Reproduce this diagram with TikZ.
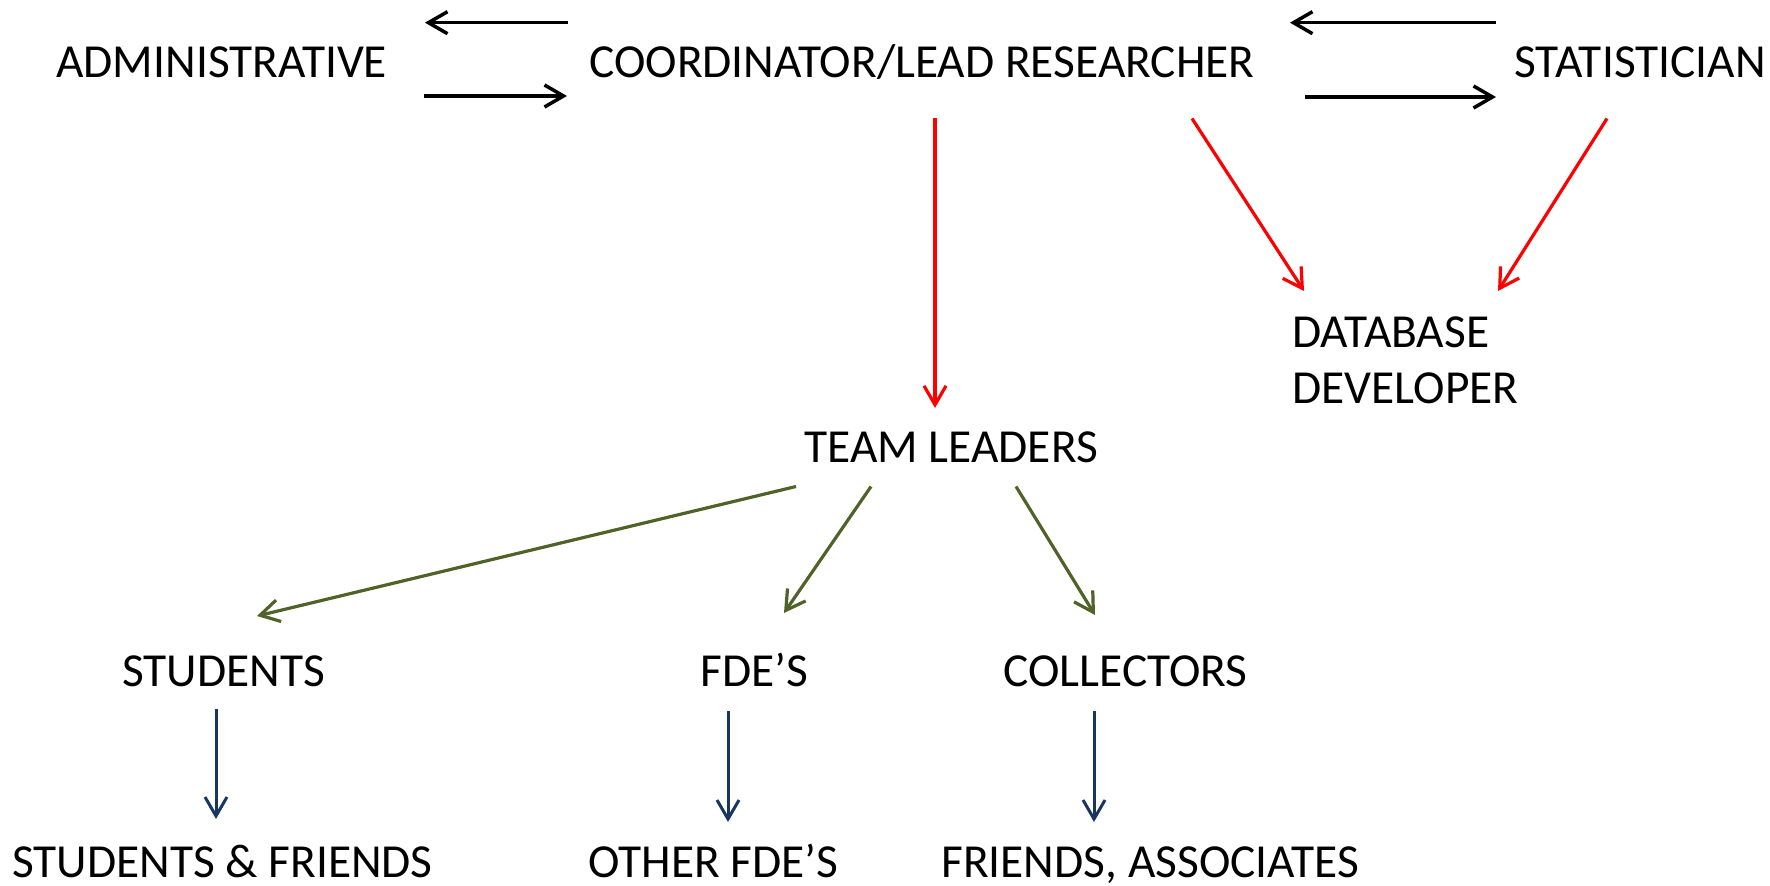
\documentclass[tikz,border=0pt]{standalone}
\usepackage{fontspec}
\setmainfont{Carlito}
\usetikzlibrary{arrows.meta}
\definecolor{olivegr}{HTML}{4F6228}
\definecolor{navyb}{HTML}{17375E}
\begin{document}
\begin{tikzpicture}[x=0.5pt,y=-0.5pt,
  lbl/.style={anchor=base west,inner sep=0pt,align=left,font=\fontsize{23.7}{28}\selectfont},
  tipb/.style={-{Straight Barb[length=9.5pt,width=11pt]}},
  blkarrow/.style={tipb,line width=1.75pt,black},
  redarrow/.style={tipb,line width=1.6pt,red},
  grnarrow/.style={tipb,line width=1.6pt,olivegr},
  bluarrow/.style={tipb,line width=1.5pt,navyb}]
\useasboundingbox (0,0) rectangle (1770,886);
% nodes
\node[lbl] (admin) at (56,78) {ADMINISTRATIVE};
\node[lbl] (coord) at (589,78) {COORDINATOR/LEAD RESEARCHER};
\node[lbl] (stat) at (1514,78) {STATISTICIAN};
\node[lbl] (db) at (1292,404) {DATABASE\\DEVELOPER};
\node[lbl] (team) at (804,462.5) {TEAM LEADERS};
\node[lbl] (stud) at (122,686) {STUDENTS};
\node[lbl] (fde) at (700,686) {FDE’S};
\node[lbl] (coll) at (1003,686) {COLLECTORS};
\node[lbl] (studf) at (12,877) {STUDENTS \& FRIENDS};
\node[lbl] (ofde) at (588,877) {OTHER FDE’S};
\node[lbl] (fass) at (941,877) {FRIENDS, ASSOCIATES};
% connector end points
\coordinate (a1s) at (568,22.7); \coordinate (a1e) at (425,22.7);
\coordinate (a2s) at (424,96);   \coordinate (a2e) at (567,96);
\coordinate (a3s) at (1496,22.7); \coordinate (a3e) at (1290,22.7);
\coordinate (a4s) at (1305,97);  \coordinate (a4e) at (1496,97);
\coordinate (r1s) at (935,118.5); \coordinate (r1e) at (935,408);
\coordinate (r2s) at (1192,118.5); \coordinate (r2e) at (1304,291);
\coordinate (r3s) at (1607,118.5); \coordinate (r3e) at (1498,291);
\coordinate (g1s) at (796,486.5); \coordinate (g1e) at (257,616);
\coordinate (g2s) at (871,486.5); \coordinate (g2e) at (784,613);
\coordinate (g3s) at (1016,486.5); \coordinate (g3e) at (1095,615);
\coordinate (b1s) at (216,709); \coordinate (b1e) at (216,819);
\coordinate (b2s) at (728,711); \coordinate (b2e) at (728,822);
\coordinate (b3s) at (1094,711); \coordinate (b3e) at (1094,822);
% connectors
\draw[blkarrow] (a1s) -- (a1e);
\draw[blkarrow] (a2s) -- (a2e);
\draw[blkarrow] (a3s) -- (a3e);
\draw[blkarrow] (a4s) -- (a4e);
\draw[redarrow] (r1s) -- (r1e);
\draw[redarrow] (r2s) -- (r2e);
\draw[redarrow] (r3s) -- (r3e);
\draw[grnarrow] (g1s) -- (g1e);
\draw[grnarrow] (g2s) -- (g2e);
\draw[grnarrow] (g3s) -- (g3e);
\draw[bluarrow] (b1s) -- (b1e);
\draw[bluarrow] (b2s) -- (b2e);
\draw[bluarrow] (b3s) -- (b3e);
\end{tikzpicture}
\end{document}
